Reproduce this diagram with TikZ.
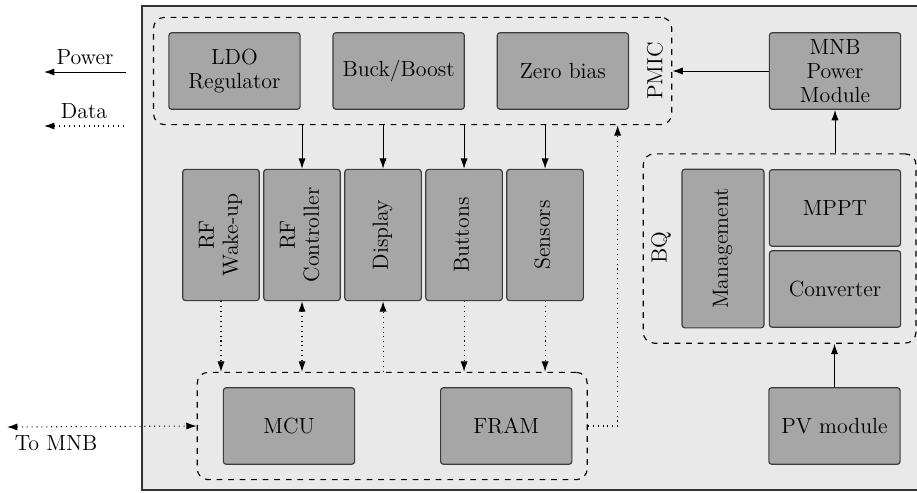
\documentclass[tikz,border=0pt]{standalone}
\usepackage{graphicx}
\usetikzlibrary{arrows.meta,positioning,fit,calc}
\definecolor{boardgray}{RGB}{233,233,233}
\definecolor{blockgray}{RGB}{166,166,166}
\definecolor{edgegray}{RGB}{60,60,60}
\newcommand{\vlabel}[1]{\rotatebox{90}{\begin{tabular}{@{}c@{}}#1\end{tabular}}}

\begin{document}
\begin{tikzpicture}[
    x=0.01828cm,y=-0.01828cm,
    >={Latex[length=1.9mm,width=1.3mm]},
    block/.style={rectangle,draw=edgegray,fill=blockgray,rounded corners=1.5pt,
                  line width=0.6pt,minimum width=2.4cm,minimum height=1.4cm,
                  font=\rmfamily\fontsize{11.4}{12.5}\selectfont,align=center,inner sep=1pt},
    vblock/.style={block,minimum width=1.4cm,minimum height=2.4cm},
    group/.style={draw,dashed,rounded corners=0.2cm,line width=0.6pt,inner sep=0.27cm},
    pwr/.style={->,line width=0.5pt},
    dat/.style={->,line width=0.55pt,dotted},
    lbl/.style={font=\rmfamily\fontsize{11.4}{12.5}\selectfont}
  ]
  \useasboundingbox (0,0) rectangle (917,492);
  \fill[boardgray,draw=black!80,line width=0.6pt] (142,6) rectangle (917.5,490);

  % power management
  \node[block] (ldo) at (234.5,71) {LDO\\Regulator};
  \node[block,right=0.58cm of ldo] (buck) {Buck/Boost};
  \node[block,right=0.58cm of buck] (zero) {Zero bias};
  \node[block] (mnb) at (835,71) {MNB\\Power\\Module};
  \node[lbl,rotate=90] (pmiclbl) at (655,71) {PMIC};
  \coordinate (pmicr) at (657,71);
  \node[group,fit=(ldo)(zero)(pmicr)] (pmic) {};

  % peripherals
  \node[vblock] (rfw) at (221,235) {\vlabel{RF\\Wake-up}};
  \node[vblock,right=0.06cm of rfw] (rfc) {\vlabel{RF\\Controller}};
  \node[vblock,right=0.06cm of rfc] (disp) {\vlabel{Display}};
  \node[vblock,right=0.06cm of disp] (btn) {\vlabel{Buttons}};
  \node[vblock,right=0.06cm of btn] (sens) {\vlabel{Sensors}};

  % harvester
  \node[block] (mppt) at (835,208) {MPPT};
  \node[block,below=0.06cm of mppt] (conv) {Converter};
  \node[block,minimum width=1.5cm,minimum height=2.9cm] (mgmt) at (723,248.5) {\vlabel{Management}};
  \node[lbl,rotate=90] (bqlbl) at (661,248) {BQ};
  \coordinate (bql) at (658,248);
  \node[group,fit=(mgmt)(mppt)(conv)(bql)] (bq) {};

  % processing
  \node[block] (mcu) at (289,426) {MCU};
  \node[block,right=1.55cm of mcu] (fram) {FRAM};
  \coordinate (memw) at (212,426);
  \node[group,fit=(memw)(mcu)(fram)] (mem) {};
  \node[block] (pv) at (834.5,426) {PV module};

  % legend
  \coordinate (pwrs) at (126,72);
  \coordinate (pwre) at (44,72);
  \draw[pwr] (pwrs) -- node[above,lbl]{Power} (pwre);
  \coordinate (dats) at (124,126);
  \coordinate (date) at (44,126);
  \draw[dat] (dats) -- node[above,lbl]{Data} (date);
  \coordinate (mnbl) at (7,427);
  \node[lbl,anchor=north west,inner sep=1pt] (tomnb) at ([xshift=0.1cm,yshift=-0.12cm]mnbl) {To MNB};

  % connections
  \draw[pwr] (mnb) -- (pmic.east |- mnb);
  \draw[pwr] (pmic.south -| rfc) -- (rfc);
  \draw[pwr] (pmic.south -| disp) -- (disp);
  \draw[pwr] (pmic.south -| btn) -- (btn);
  \draw[pwr] (pmic.south -| sens) -- (sens);
  \draw[dat] (rfw) -- (mem.north -| rfw);
  \draw[dat,<->] (rfc) -- (mem.north -| rfc);
  \draw[dat] (mem.north -| disp) -- (disp);
  \draw[dat] (btn) -- (mem.north -| btn);
  \draw[dat] (sens) -- (mem.north -| sens);
  \draw[dat] (mem.east |- fram) -| ([xshift=-1cm]pmic.south east);
  \draw[dat,<->] (mnbl) -- (mem.west |- mcu);
  \draw[pwr] (bq.north -| mnb) -- (mnb);
  \draw[pwr] (pv) -- (bq.south -| pv);
\end{tikzpicture}
\end{document}
